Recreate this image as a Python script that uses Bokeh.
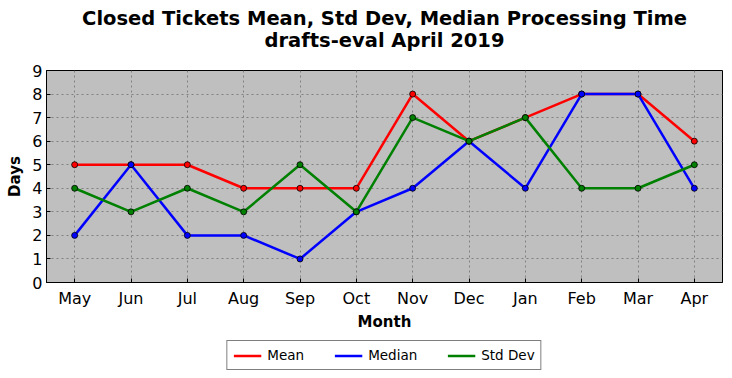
from bokeh.plotting import figure
from bokeh.models import Legend, LegendItem, FixedTicker, Range1d
from bokeh.layouts import column
from bokeh.core.properties import value
from bokeh.embed import file_html
from bokeh.resources import INLINE

months = ["May", "Jun", "Jul", "Aug", "Sep", "Oct", "Nov", "Dec", "Jan", "Feb", "Mar", "Apr"]
mean = [5, 5, 5, 4, 4, 4, 8, 6, 7, 8, 8, 6]
median = [2, 5, 2, 2, 1, 3, 4, 6, 4, 8, 8, 4]
std_dev = [4, 3, 4, 3, 5, 3, 7, 6, 7, 4, 4, 5]
y_ticks = list(range(0, 10))
series = [(mean, "red", "Mean"), (median, "blue", "Median"), (std_dev, "green", "Std Dev")]
title_lines = ["Closed Tickets Mean, Std Dev, Median Processing Time", "drafts-eval April 2019"]

FONT = "DejaVu Sans"
LEFT, RIGHT = 46, 2
W = LEFT + 676 + RIGHT
TOP_H = 60


def blank(height):
    f = figure(width=W, height=height, x_range=Range1d(0, 1), y_range=Range1d(height, 0),
               output_backend="svg", toolbar_location=None,
               x_axis_type=None, y_axis_type=None,
               min_border_left=LEFT, min_border_right=RIGHT, min_border_top=0, min_border_bottom=0)
    f.grid.visible = False
    f.outline_line_color = None
    f.background_fill_color = "white"
    f.border_fill_color = "white"
    return f


# --- title strip ---
top = blank(TOP_H)
top.text(x=[0.5, 0.5], y=[18, 40], text=title_lines,
         text_font=value(FONT), text_font_size=value("19.5px"), text_font_style="bold",
         text_color="black", text_align="center", text_baseline="middle")

# --- main chart ---
p = figure(width=W, height=280, x_range=months, y_range=Range1d(0, 9),
           output_backend="svg", toolbar_location=None,
           min_border_left=LEFT, min_border_right=RIGHT, min_border_top=10, min_border_bottom=58)
p.title = None
p.background_fill_color = "#bfbfbf"
p.border_fill_color = "white"
p.outline_line_color = "black"
p.outline_line_width = 1

for ax in (p.xaxis[0], p.yaxis[0]):
    ax.major_label_text_font = FONT
    ax.major_label_text_font_size = "16px"
    ax.major_label_text_color = "black"
    ax.axis_label_text_font = FONT
    ax.axis_label_text_font_size = "15px"
    ax.axis_label_text_font_style = "bold"
    ax.axis_label_text_color = "black"
    ax.major_tick_in = 4
    ax.major_tick_out = 0
    ax.minor_tick_line_color = None
    ax.axis_line_color = "black"
    ax.major_tick_line_color = "black"

p.xaxis.axis_label = "Month"
p.yaxis.axis_label = "Days"
p.yaxis.ticker = FixedTicker(ticks=y_ticks)
p.yaxis.major_label_standoff = 4
p.xaxis.major_label_standoff = 6
p.xaxis.axis_label_standoff = 2

p.grid.grid_line_color = "#808080"
p.grid.grid_line_dash = "2 3"
p.grid.grid_line_width = 1

for vals, color, name in series:
    p.line(months, vals, line_color=color, line_width=2.5)
    p.scatter(months, vals, size=6, fill_color=color, line_color="black", line_width=0.8)

# --- legend strip ---
bot = blank(30)
nan = float("nan")
items = []
for vals, color, name in series:
    r = bot.line(x=[nan, nan], y=[nan, nan], line_color=color, line_width=2.5)
    items.append(LegendItem(label=name, renderers=[r]))

legend = Legend(items=items, orientation="horizontal", location="center",
                label_text_font=FONT, label_text_font_size="13.5px", label_text_color="black",
                border_line_color="black", border_line_width=1, background_fill_color="white",
                background_fill_alpha=1.0,
                spacing=30, padding=6, margin=0, glyph_width=28, glyph_height=13,
                label_standoff=6, label_height=13)
bot.add_layout(legend, "center")

layout = column(top, p, bot, spacing=0)
open("out.html", "w").write(file_html(layout, INLINE))
